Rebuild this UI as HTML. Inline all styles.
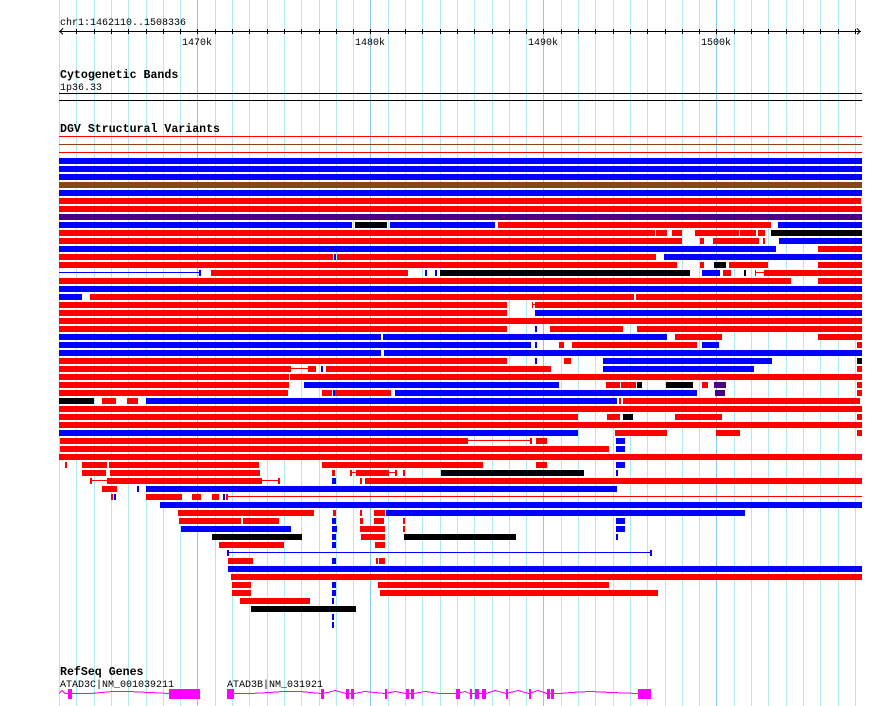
<!DOCTYPE html>
<html><head><meta charset="utf-8"><style>
html,body{margin:0;padding:0;background:#fff;}
svg{display:block;font-family:"Liberation Mono",monospace;}
.r{fill:#f00}.b{fill:#00f}.k{fill:#000}.n{fill:#8b4513}.p{fill:#4b0082}.m{fill:#f0f}
</style></head><body>
<svg width="890" height="706" xmlns="http://www.w3.org/2000/svg" shape-rendering="crispEdges">
<rect width="890" height="706" fill="#fff"/>
<g stroke="#aeeaee" stroke-width="1">
<line x1="59.5" y1="0" x2="59.5" y2="706"/><line x1="76.5" y1="0" x2="76.5" y2="706"/><line x1="94.5" y1="0" x2="94.5" y2="706"/><line x1="111.5" y1="0" x2="111.5" y2="706"/><line x1="128.5" y1="0" x2="128.5" y2="706"/><line x1="146.5" y1="0" x2="146.5" y2="706"/><line x1="163.5" y1="0" x2="163.5" y2="706"/><line x1="180.5" y1="0" x2="180.5" y2="706"/>
<line x1="215.5" y1="0" x2="215.5" y2="706"/><line x1="232.5" y1="0" x2="232.5" y2="706"/><line x1="249.5" y1="0" x2="249.5" y2="706"/><line x1="267.5" y1="0" x2="267.5" y2="706"/><line x1="284.5" y1="0" x2="284.5" y2="706"/><line x1="301.5" y1="0" x2="301.5" y2="706"/><line x1="319.5" y1="0" x2="319.5" y2="706"/><line x1="336.5" y1="0" x2="336.5" y2="706"/><line x1="353.5" y1="0" x2="353.5" y2="706"/>
<line x1="388.5" y1="0" x2="388.5" y2="706"/><line x1="405.5" y1="0" x2="405.5" y2="706"/><line x1="422.5" y1="0" x2="422.5" y2="706"/><line x1="440.5" y1="0" x2="440.5" y2="706"/><line x1="457.5" y1="0" x2="457.5" y2="706"/><line x1="474.5" y1="0" x2="474.5" y2="706"/><line x1="492.5" y1="0" x2="492.5" y2="706"/><line x1="509.5" y1="0" x2="509.5" y2="706"/><line x1="526.5" y1="0" x2="526.5" y2="706"/>
<line x1="561.5" y1="0" x2="561.5" y2="706"/><line x1="578.5" y1="0" x2="578.5" y2="706"/><line x1="595.5" y1="0" x2="595.5" y2="706"/><line x1="613.5" y1="0" x2="613.5" y2="706"/><line x1="630.5" y1="0" x2="630.5" y2="706"/><line x1="647.5" y1="0" x2="647.5" y2="706"/><line x1="665.5" y1="0" x2="665.5" y2="706"/><line x1="682.5" y1="0" x2="682.5" y2="706"/><line x1="699.5" y1="0" x2="699.5" y2="706"/>
<line x1="734.5" y1="0" x2="734.5" y2="706"/><line x1="751.5" y1="0" x2="751.5" y2="706"/><line x1="768.5" y1="0" x2="768.5" y2="706"/><line x1="786.5" y1="0" x2="786.5" y2="706"/><line x1="803.5" y1="0" x2="803.5" y2="706"/><line x1="820.5" y1="0" x2="820.5" y2="706"/><line x1="838.5" y1="0" x2="838.5" y2="706"/><line x1="855.5" y1="0" x2="855.5" y2="706"/>
</g>
<g stroke="#88c8e8" stroke-width="1">
<line x1="197.5" y1="0" x2="197.5" y2="706"/><line x1="370.5" y1="0" x2="370.5" y2="706"/><line x1="543.5" y1="0" x2="543.5" y2="706"/><line x1="716.5" y1="0" x2="716.5" y2="706"/>
</g>
<!-- ruler -->
<text x="60" y="25" font-size="10">chr1:1462110..1508336</text>
<g stroke="#000" stroke-width="1">
<line x1="59" y1="31.5" x2="861" y2="31.5"/>
<polyline points="63,28.5 60,31.5 63,34.5" fill="none"/>
<polyline points="857,28.5 860,31.5 857,34.5" fill="none"/>
<path d="M76.5 29v5M94.5 29v5M111.5 29v5M128.5 29v5M146.5 29v5M163.5 29v5M180.5 29v5M197.5 29v5M215.5 29v5M232.5 29v5M249.5 29v5M267.5 29v5M284.5 29v5M301.5 29v5M319.5 29v5M336.5 29v5M353.5 29v5M370.5 29v5M388.5 29v5M405.5 29v5M422.5 29v5M440.5 29v5M457.5 29v5M474.5 29v5M492.5 29v5M509.5 29v5M526.5 29v5M543.5 29v5M561.5 29v5M578.5 29v5M595.5 29v5M613.5 29v5M630.5 29v5M647.5 29v5M665.5 29v5M682.5 29v5M699.5 29v5M716.5 29v5M734.5 29v5M751.5 29v5M768.5 29v5M786.5 29v5M803.5 29v5M820.5 29v5M838.5 29v5M855.5 29v5"/>
</g>
<g font-size="10"><text x="182" y="45">1470k</text><text x="355" y="45">1480k</text><text x="528" y="45">1490k</text><text x="701" y="45">1500k</text></g>
<!-- cyto -->
<text x="60" y="78" font-size="11.6" font-weight="bold">Cytogenetic Bands</text>
<text x="60" y="90" font-size="10">1p36.33</text>
<rect x="59" y="93" width="803" height="1" class="k"/>
<rect x="59" y="100" width="803" height="1" class="k"/>
<!-- DGV -->
<text x="60" y="132" font-size="11.6" font-weight="bold">DGV Structural Variants</text>
<rect x="59" y="136" width="803" height="1" class="r"/>
<rect x="59" y="144" width="803" height="1" class="n"/>
<rect x="59" y="152" width="803" height="1" class="r"/>
<g transform="translate(0,158)"><rect x="59" width="803" height="6" class="b"/></g>
<g transform="translate(0,166)"><rect x="59" width="803" height="6" class="b"/></g>
<g transform="translate(0,174)"><rect x="59" width="803" height="6" class="b"/></g>
<g transform="translate(0,182)"><rect x="59" width="803" height="6" class="n"/></g>
<g transform="translate(0,190)"><rect x="59" width="803" height="6" class="b"/></g>
<g transform="translate(0,198)"><rect x="59" width="802" height="6" class="r"/></g>
<g transform="translate(0,206)"><rect x="59" width="803" height="6" class="r"/></g>
<g transform="translate(0,214)"><rect x="59" width="803" height="6" class="p"/></g>
<g transform="translate(0,222)"><rect x="59" width="293" height="6" class="b"/><rect x="355" width="32" height="6" class="k"/><rect x="390" width="105" height="6" class="b"/><rect x="498" width="273" height="6" class="r"/><rect x="778" width="84" height="6" class="b"/></g>
<g transform="translate(0,230)"><rect x="59" width="596" height="6" class="r"/><rect x="656" width="11" height="6" class="r"/><rect x="672" width="10" height="6" class="r"/><rect x="695" width="44" height="6" class="r"/><rect x="740" width="16" height="6" class="r"/><rect x="758" width="7" height="6" class="r"/><rect x="771" width="91" height="6" class="k"/></g>
<g transform="translate(0,238)"><rect x="59" width="623" height="6" class="r"/><rect x="700" width="4" height="6" class="r"/><rect x="713" width="46" height="6" class="r"/><rect x="763" width="2" height="6" class="r"/><rect x="779" width="83" height="6" class="b"/></g>
<g transform="translate(0,246)"><rect x="59" width="717" height="6" class="b"/><rect x="818" width="44" height="6" class="r"/></g>
<g transform="translate(0,254)"><rect x="59" width="274" height="6" class="r"/><rect x="334" width="2" height="6" class="b"/><rect x="337" width="319" height="6" class="r"/><rect x="664" width="198" height="6" class="b"/></g>
<g transform="translate(0,262)"><rect x="59" width="618" height="6" class="r"/><rect x="700" width="4" height="6" class="r"/><rect x="714" width="12" height="6" class="k"/><rect x="729" width="39" height="6" class="r"/><rect x="818" width="44" height="6" class="r"/></g>
<g transform="translate(0,270)"><rect x="59" y="2" width="140" height="1" class="b"/><rect x="199" width="2" height="6" class="b"/><rect x="211" width="197" height="6" class="r"/><rect x="425" width="2" height="6" class="b"/><rect x="435" width="2" height="6" class="b"/><rect x="440" width="250" height="6" class="k"/><rect x="702" width="18" height="6" class="b"/><rect x="723" width="8" height="6" class="r"/><rect x="744" width="2" height="6" class="k"/><rect x="755" width="1" height="6" class="r"/><rect x="755" y="2" width="9" height="1" class="r"/><rect x="764" width="98" height="6" class="r"/></g>
<g transform="translate(0,278)"><rect x="59" width="732" height="6" class="r"/><rect x="818" width="44" height="6" class="r"/></g>
<g transform="translate(0,286)"><rect x="59" width="803" height="6" class="b"/></g>
<g transform="translate(0,294)"><rect x="59" width="23" height="6" class="b"/><rect x="90" width="544" height="6" class="r"/><rect x="636" width="226" height="6" class="r"/></g>
<g transform="translate(0,302)"><rect x="59" width="448" height="6" class="r"/><rect x="532" width="1" height="6" class="r"/><rect x="532" y="2" width="3" height="1" class="r"/><rect x="535" width="327" height="6" class="r"/></g>
<g transform="translate(0,310)"><rect x="59" width="448" height="6" class="r"/><rect x="535" width="327" height="6" class="b"/></g>
<g transform="translate(0,318)"><rect x="59" width="803" height="6" class="r"/></g>
<g transform="translate(0,326)"><rect x="59" width="448" height="6" class="r"/><rect x="535" width="2" height="6" class="b"/><rect x="550" width="73" height="6" class="r"/><rect x="637" width="225" height="6" class="r"/></g>
<g transform="translate(0,334)"><rect x="59" width="322" height="6" class="b"/><rect x="383" width="284" height="6" class="b"/><rect x="675" width="47" height="6" class="r"/><rect x="818" width="44" height="6" class="r"/></g>
<g transform="translate(0,342)"><rect x="59" width="472" height="6" class="b"/><rect x="535" width="2" height="6" class="b"/><rect x="559" width="5" height="6" class="r"/><rect x="572" width="125" height="6" class="r"/><rect x="702" width="17" height="6" class="b"/><rect x="857" width="5" height="6" class="r"/></g>
<g transform="translate(0,350)"><rect x="59" width="322" height="6" class="b"/><rect x="384" width="478" height="6" class="b"/></g>
<g transform="translate(0,358)"><rect x="59" width="448" height="6" class="r"/><rect x="535" width="2" height="6" class="b"/><rect x="564" width="7" height="6" class="r"/><rect x="603" width="169" height="6" class="b"/><rect x="857" width="5" height="6" class="k"/></g>
<g transform="translate(0,366)"><rect x="59" width="232" height="6" class="r"/><rect x="291" y="2" width="17" height="1" class="r"/><rect x="308" width="8" height="6" class="r"/><rect x="321" width="2" height="6" class="b"/><rect x="326" width="225" height="6" class="r"/><rect x="603" width="151" height="6" class="b"/><rect x="857" width="5" height="6" class="r"/></g>
<g transform="translate(0,374)"><rect x="59" width="230" height="6" class="r"/><rect x="290" width="572" height="6" class="r"/></g>
<g transform="translate(0,382)"><rect x="59" width="230" height="6" class="r"/><rect x="304" width="255" height="6" class="b"/><rect x="606" width="14" height="6" class="r"/><rect x="621" width="15" height="6" class="r"/><rect x="637" width="5" height="6" class="k"/><rect x="666" width="27" height="6" class="k"/><rect x="702" width="6" height="6" class="r"/><rect x="714" width="12" height="6" class="p"/><rect x="857" width="5" height="6" class="r"/></g>
<g transform="translate(0,390)"><rect x="59" width="229" height="6" class="r"/><rect x="322" width="10" height="6" class="r"/><rect x="333" width="2" height="6" class="b"/><rect x="335" width="56" height="6" class="r"/><rect x="395" width="302" height="6" class="b"/><rect x="715" width="10" height="6" class="p"/><rect x="857" width="5" height="6" class="r"/></g>
<g transform="translate(0,398)"><rect x="59" width="35" height="6" class="k"/><rect x="102" width="14" height="6" class="r"/><rect x="127" width="11" height="6" class="r"/><rect x="146" width="471" height="6" class="b"/><rect x="619" width="2" height="6" class="r"/><rect x="623" width="237" height="6" class="r"/></g>
<g transform="translate(0,406)"><rect x="59" width="803" height="6" class="r"/></g>
<g transform="translate(0,414)"><rect x="59" width="519" height="6" class="r"/><rect x="607" width="13" height="6" class="r"/><rect x="623" width="10" height="6" class="k"/><rect x="675" width="47" height="6" class="r"/><rect x="857" width="5" height="6" class="r"/></g>
<g transform="translate(0,422)"><rect x="59" width="803" height="6" class="r"/></g>
<g transform="translate(0,430)"><rect x="59" width="519" height="6" class="b"/><rect x="615" width="52" height="6" class="r"/><rect x="716" width="24" height="6" class="r"/><rect x="857" width="5" height="6" class="r"/></g>
<g transform="translate(0,438)"><rect x="60" width="408" height="6" class="r"/><rect x="468" y="2" width="63" height="1" class="r"/><rect x="530" width="2" height="6" class="r"/><rect x="536" width="11" height="6" class="r"/><rect x="616" width="9" height="6" class="b"/></g>
<g transform="translate(0,446)"><rect x="60" width="549" height="6" class="r"/><rect x="616" width="9" height="6" class="b"/></g>
<g transform="translate(0,454)"><rect x="59" width="803" height="6" class="r"/></g>
<g transform="translate(0,462)"><rect x="65" width="2" height="6" class="r"/><rect x="82" width="25" height="6" class="r"/><rect x="109" width="150" height="6" class="r"/><rect x="322" width="161" height="6" class="r"/><rect x="536" width="11" height="6" class="r"/><rect x="616" width="9" height="6" class="b"/></g>
<g transform="translate(0,470)"><rect x="82" width="24" height="6" class="r"/><rect x="110" width="150" height="6" class="r"/><rect x="332" width="3" height="6" class="r"/><rect x="350" width="2" height="6" class="r"/><rect x="350" y="2" width="45" height="1" class="r"/><rect x="356" width="33" height="6" class="r"/><rect x="395" width="2" height="6" class="r"/><rect x="403" width="2" height="6" class="r"/><rect x="441" width="143" height="6" class="k"/><rect x="616" width="2" height="6" class="b"/></g>
<g transform="translate(0,478)"><rect x="90" width="2" height="6" class="r"/><rect x="92" y="2" width="15" height="1" class="r"/><rect x="107" width="155" height="6" class="r"/><rect x="262" y="2" width="16" height="1" class="r"/><rect x="278" width="2" height="6" class="r"/><rect x="332" width="4" height="6" class="b"/><rect x="360" width="2" height="6" class="r"/><rect x="365" width="497" height="6" class="r"/></g>
<g transform="translate(0,486)"><rect x="102" width="15" height="6" class="r"/><rect x="137" width="2" height="6" class="b"/><rect x="146" width="471" height="6" class="b"/></g>
<g transform="translate(0,494)"><rect x="111" width="2" height="6" class="r"/><rect x="114" width="2" height="6" class="b"/><rect x="146" width="36" height="6" class="r"/><rect x="192" width="9" height="6" class="r"/><rect x="212" width="7" height="6" class="r"/><rect x="223" width="2" height="6" class="b"/><rect x="226" width="2" height="6" class="r"/><rect x="228" y="2" width="634" height="1" class="r"/></g>
<g transform="translate(0,502)"><rect x="160" width="702" height="6" class="b"/></g>
<g transform="translate(0,510)"><rect x="178" width="136" height="6" class="r"/><rect x="333" width="3" height="6" class="r"/><rect x="360" width="2" height="6" class="r"/><rect x="374" width="11" height="6" class="r"/><rect x="386" width="359" height="6" class="b"/></g>
<g transform="translate(0,518)"><rect x="179" width="62" height="6" class="r"/><rect x="243" width="36" height="6" class="r"/><rect x="332" width="4" height="6" class="b"/><rect x="360" width="3" height="6" class="r"/><rect x="374" width="10" height="6" class="r"/><rect x="403" width="2" height="6" class="r"/><rect x="616" width="9" height="6" class="b"/></g>
<g transform="translate(0,526)"><rect x="181" width="110" height="6" class="b"/><rect x="332" width="5" height="6" class="b"/><rect x="360" width="25" height="6" class="r"/><rect x="403" width="2" height="6" class="r"/><rect x="616" width="9" height="6" class="b"/></g>
<g transform="translate(0,534)"><rect x="212" width="90" height="6" class="k"/><rect x="332" width="4" height="6" class="b"/><rect x="361" width="24" height="6" class="r"/><rect x="404" width="112" height="6" class="k"/><rect x="616" width="2" height="6" class="b"/></g>
<g transform="translate(0,542)"><rect x="219" width="65" height="6" class="r"/><rect x="332" width="4" height="6" class="b"/><rect x="375" width="10" height="6" class="r"/></g>
<g transform="translate(0,550)"><rect x="227" width="2" height="6" class="b"/><rect x="229" y="2" width="422" height="1" class="b"/><rect x="650" width="2" height="6" class="b"/></g>
<g transform="translate(0,558)"><rect x="228" width="25" height="6" class="r"/><rect x="332" width="4" height="6" class="b"/><rect x="376" width="2" height="6" class="r"/><rect x="379" width="6" height="6" class="r"/></g>
<g transform="translate(0,566)"><rect x="228" width="634" height="6" class="b"/></g>
<g transform="translate(0,574)"><rect x="231" width="631" height="6" class="r"/></g>
<g transform="translate(0,582)"><rect x="232" width="19" height="6" class="r"/><rect x="332" width="4" height="6" class="b"/><rect x="378" width="231" height="6" class="r"/></g>
<g transform="translate(0,590)"><rect x="232" width="19" height="6" class="r"/><rect x="332" width="4" height="6" class="b"/><rect x="380" width="278" height="6" class="r"/></g>
<g transform="translate(0,598)"><rect x="240" width="70" height="6" class="r"/><rect x="332" width="2" height="6" class="b"/></g>
<g transform="translate(0,606)"><rect x="251" width="105" height="6" class="k"/></g>
<g transform="translate(0,614)"><rect x="332" width="2" height="6" class="b"/></g>
<g transform="translate(0,622)"><rect x="332" width="2" height="6" class="b"/></g>
<!-- RefSeq -->
<text x="60" y="675" font-size="11.6" font-weight="bold">RefSeq Genes</text>
<text x="60" y="687" font-size="10">ATAD3C|NM_001039211</text>
<text x="227" y="687" font-size="10">ATAD3B|NM_031921</text>
<g fill="none" stroke="#f0f" stroke-width="1">
<polyline points="59,693.5 62,690.5 65,693.5 68,693.5 72,693.5 90,693.5 113,691.5 128,691.5 150,692.5 169,693.5"/>
<polyline points="234,693.5 250,693.5 270,692.5 283,691.5 300,691.5 321,693.5 328,692.5 335,690.5 346,693.5 354,693.5 365,691.5 385,693.5 395,691.5 406,693.5 414,693.5 425,691.5 440,693.5 456,693.5 465,691.5 470,693.5 486,693.5 495,690.5 506,693.5 518,690.5 529,693.5 538,690.5 547,693.5 560,693.5 570,692.5 590,691.5 612,692.5 638,693.5"/>
</g>
<g class="m">
<rect x="68" y="689" width="4" height="10"/><rect x="169" y="689" width="31" height="10"/>
<rect x="227" y="689" width="7" height="10"/><rect x="321" y="689" width="3" height="10"/><rect x="346" y="689" width="3" height="10"/><rect x="351" y="689" width="3" height="10"/><rect x="385" y="689" width="2" height="10"/><rect x="406" y="689" width="3" height="10"/><rect x="411" y="689" width="3" height="10"/><rect x="456" y="689" width="4" height="10"/><rect x="470" y="689" width="2" height="10"/><rect x="475" y="689" width="4" height="10"/><rect x="482" y="689" width="4" height="10"/><rect x="506" y="689" width="2" height="10"/><rect x="529" y="689" width="2" height="10"/><rect x="547" y="689" width="3" height="10"/><rect x="551" y="689" width="3" height="10"/><rect x="638" y="689" width="13" height="10"/>
</g>
</svg>
</body></html>
